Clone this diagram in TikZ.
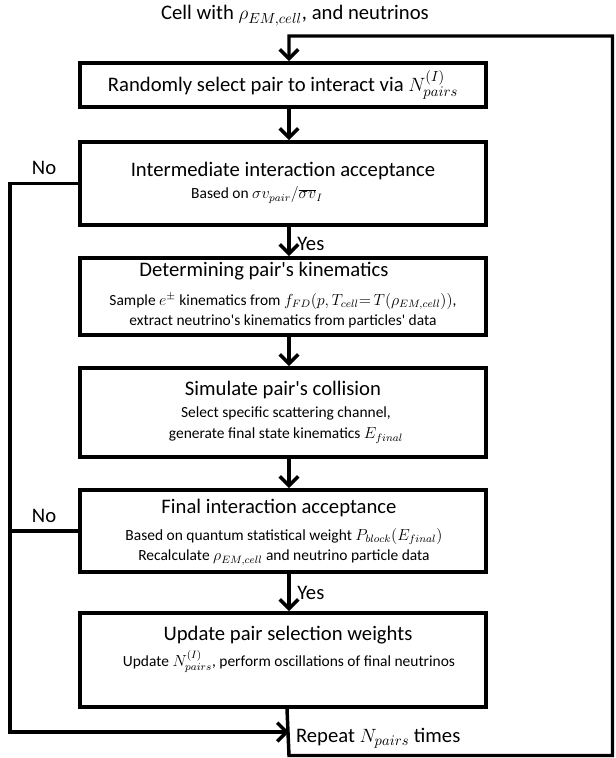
\documentclass[tikz,border=0pt]{standalone}
\usepackage{fontspec}
\setmainfont{Carlito}
\usetikzlibrary{arrows.meta,calc}
\newcommand{\apos}{\textquotesingle}
\tikzset{
  stage/.style={
    % The shape:
    shape=rectangle,minimum width=304.5pt,
    % The border:
    draw=black,line width=2.8pt,
    % The text:
    font=\fontsize{15.5}{18}\selectfont}}
\tikzset{
	head/.style={inner sep=0pt,font=\fontsize{15.5}{18}\selectfont},
	info/.style={inner sep=0pt,align=center,font=\fontsize{11.6}{15.5}\selectfont},
	flow/.style={line width=2.6pt,-{Straight Barb[length=7pt,width=14pt]}},
	back/.style={line width=2.6pt},
	tag/.style={font=\fontsize{15.5}{18}\selectfont}}

\begin{document}
\begin{tikzpicture}[x=0.75pt,y=-0.75pt]
	\useasboundingbox (0,0) rectangle (615,758);
	% Input
	\node[head] (cell) at (295,16) {Cell with $\rho_{EM,cell}$, and neutrinos};
	% Boxes
	\node[stage,minimum height=33pt] (select) at (283,85) {Randomly select pair to interact via $N^{(I)}_{pairs}$};
	\node[stage,minimum height=62.25pt] (accept) at (283,183.5) {};
	\node[stage,minimum height=57.75pt] (kinem) at (283,296.5) {};
	\node[stage,minimum height=66.75pt] (collide) at (283,412.5) {};
	\node[stage,minimum height=61.5pt] (final) at (283,531) {};
	\node[stage,minimum height=70.5pt] (update) at (283,660) {};
	% Texts in the boxes
	\node[head] (acceptT) at ($(accept.north)+(0,31)$) {Intermediate interaction acceptance};
	\node[info] (acceptS) at ($(accept.north)+(-26,55)$) {Based on $\sigma v_{pair}/\overline{\sigma v}_I$};
	\node[head] (kinemT) at ($(kinem.north)+(-19,15)$) {Determining pair\apos s kinematics};
	\node[info] (kinemS) at ($(kinem.north)+(0,54.5)$) {Sample $e^{\pm}$ kinematics from $f_{FD}(p,T_{cell}{=}\,T(\rho_{EM,cell}))$,\\extract neutrino\apos s kinematics from particles\apos{} data};
	\node[head] (collideT) at ($(collide.north)+(0,24)$) {Simulate pair\apos s collision};
	\node[info] (collideS) at ($(collide.north)+(3,59)$) {Select specific scattering channel,\\generate final state kinematics $E_{final}$};
	\node[head] (finalT) at ($(final.north)+(-4,20)$) {Final interaction acceptance};
	\node[info] (finalS) at ($(final.north)+(1,58.5)$) {Based on quantum statistical weight $P_{block}(E_{final})$\\Recalculate $\rho_{EM,cell}$ and neutrino particle data};
	\node[head] (updateT) at ($(update.north)+(5,24)$) {Update pair selection weights};
	\node[info] (updateS) at ($(update.north)+(6,50)$) {Update $N^{(I)}_{pairs}$, perform oscillations of final neutrinos};
	% Corners of the loops
	\coordinate (lbot) at (10,732);
	\coordinate (rbot) at (289,755.5);
	\coordinate (redge) at (612.5,755.5);
	\coordinate (rtop) at (612.5,36);
	% Main flow
	\draw[flow] ($(select.south)+(6,0)$) -- ($(accept.north)+(6,0)$);
	\draw[flow] ($(accept.south)+(6,0)$) -- ($(kinem.north)+(6,0)$) node[pos=0.6,right,inner sep=5pt,tag] {Yes};
	\draw[flow] ($(kinem.south)+(6,0)$) -- ($(collide.north)+(6,0)$);
	\draw[flow] ($(collide.south)+(6,0)$) -- ($(final.north)+(6,0)$);
	\draw[flow] ($(final.south)+(6,0)$) -- ($(update.north)+(6,0)$) node[midway,right,inner sep=5pt,tag] {Yes};
	% Rejected pairs
	\draw[flow] (accept.west) -| node[pos=0.25,above,inner sep=5pt,tag] {No} (lbot) -- (lbot -| rbot);
	\draw[back] (final.west) -- node[above,inner sep=5pt,tag] {No} (final.west -| lbot);
	% Repeat loop
	\draw[flow] ($(update.south)+(4,0)$) -- (rbot) node[above right,inner sep=4pt,tag] {Repeat $N_{pairs}$ times}
		-- (redge) -- (rtop) -| ($(select.north)+(6,0)$);
\end{tikzpicture}
\end{document}
